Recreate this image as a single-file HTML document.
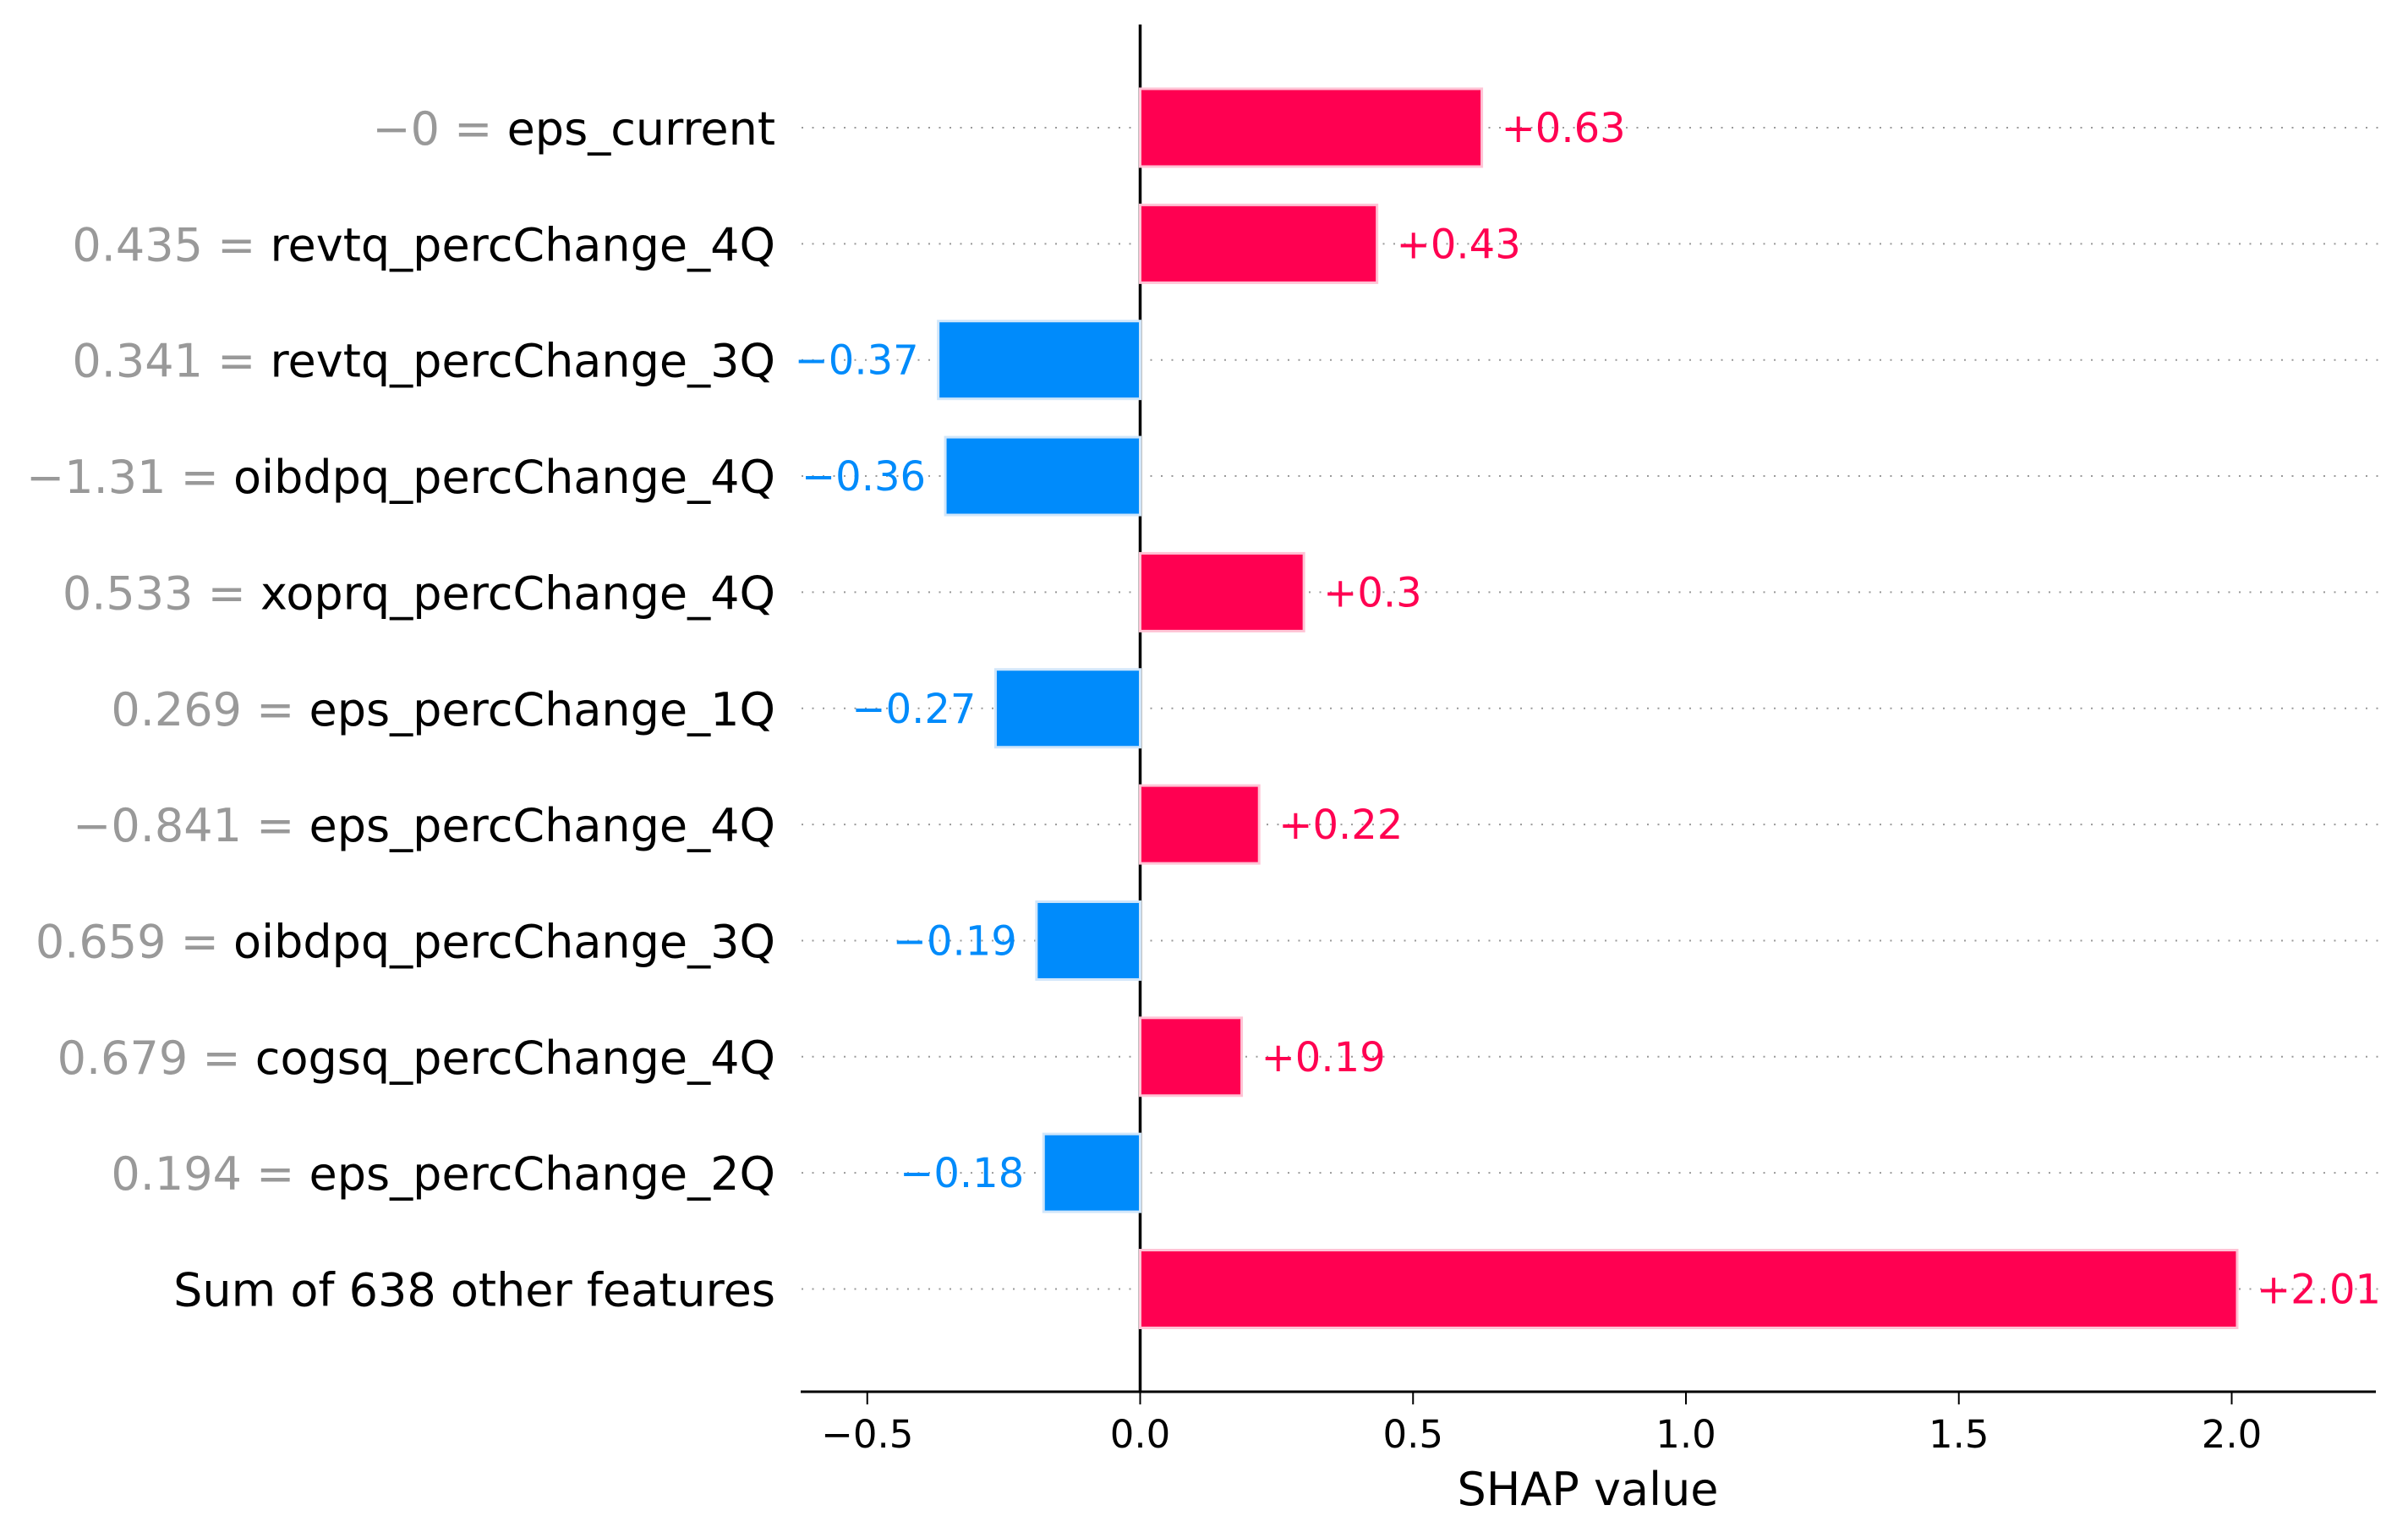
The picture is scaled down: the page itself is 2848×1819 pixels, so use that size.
<!DOCTYPE html>
<html><head><meta charset="utf-8"><style>
html,body{margin:0;padding:0;background:#fff;}
svg{display:block;font-family:"DejaVu Sans","Liberation Sans",sans-serif;}
</style></head><body>
<svg id="chart" width="2848" height="1819" viewBox="0 0 2848 1819" xmlns="http://www.w3.org/2000/svg"></svg>
<script>
const featureValues = ["\u22120", "0.435", "0.341", "\u22121.31", "0.533", "0.269", "\u22120.841", "0.659", "0.679", "0.194", ""];
const featureNames = ["eps_current", "revtq_percChange_4Q", "revtq_percChange_3Q", "oibdpq_percChange_4Q", "xoprq_percChange_4Q", "eps_percChange_1Q", "eps_percChange_4Q", "oibdpq_percChange_3Q", "cogsq_percChange_4Q", "eps_percChange_2Q", "Sum of 638 other features"];
const shapValues = [0.626, 0.434, -0.370, -0.357, 0.300, -0.265, 0.218, -0.19, 0.186, -0.177, 2.01];
const tickValues = [-0.5, 0, 0.5, 1.0, 1.5, 2.0];
const tickLabels = ["\u22120.5", "0.0", "0.5", "1.0", "1.5", "2.0"];

const NS = "http://www.w3.org/2000/svg";
const svg = document.getElementById("chart");
const X0 = 1348.5, PXU = 645.5;
function xs(v){ return X0 + v * PXU; }
function ys(i){ return 151 + i * 137.35; }
function mk(tag, attrs, parent){
  const e = document.createElementNS(NS, tag);
  for (const k in attrs) e.setAttribute(k, attrs[k]);
  (parent || svg).appendChild(e);
  return e;
}
function fmtVal(v){
  let s = Math.abs(v).toFixed(2);
  if (s.endsWith("0")) s = s.slice(0, -1);
  return (v >= 0 ? "+" : "\u2212") + s;
}

shapValues.forEach((v, i) => {
  const l = mk("line", {x1: 948, x2: 2822, y1: ys(i), y2: ys(i), stroke: "#999", "stroke-width": 2, "stroke-dasharray": "2 10.5"});
  
  
});

const zl = mk("line", {x1: xs(0), x2: xs(0), y1: 29, y2: 1646, stroke: "#000", "stroke-width": 3.5});



shapValues.forEach((v, i) => {
  const pos = v >= 0;
  const x = Math.min(xs(0), xs(v)), w = Math.abs(xs(v) - xs(0));
  const r = mk("rect", {x: x, y: ys(i) - 46, width: w, height: 92, fill: pos ? "#ff0051" : "#008bfb", stroke: pos ? "#ffc3d5" : "#d1e6fa", "stroke-width": 3});
  
  
  const t = mk("text", {x: pos ? xs(v) + 23 : xs(v) - 23, y: ys(i) + 17, "font-size": 48, fill: pos ? "#ff0051" : "#008bfb", "text-anchor": pos ? "start" : "end"});
  t.textContent = fmtVal(v);
  
  

  const ft = mk("text", {x: 917, y: ys(i) + 20, "font-size": 54, "text-anchor": "end"});
  
  
  if (featureValues[i] !== "") {
    const g = mk("tspan", {fill: "#999"}, ft);
    g.textContent = featureValues[i] + " = ";
  }
  const n = mk("tspan", {fill: "#000"}, ft);
  n.textContent = featureNames[i];
});

const ax = mk("line", {x1: 947, x2: 2810, y1: 1646, y2: 1646, stroke: "#000", "stroke-width": 3});


tickValues.forEach((v, i) => {
  const tk = mk("line", {x1: xs(v), x2: xs(v), y1: 1646, y2: 1661, stroke: "#000", "stroke-width": 2});
  
  
  const tl = mk("text", {x: xs(v), y: 1712, "font-size": 45, "text-anchor": "middle", fill: "#000"});
  tl.textContent = tickLabels[i];
  
  
});
const xt = mk("text", {x: 1878, y: 1780, "font-size": 54, "text-anchor": "middle", fill: "#000"});
xt.textContent = "SHAP value";


</script>
</body></html>
